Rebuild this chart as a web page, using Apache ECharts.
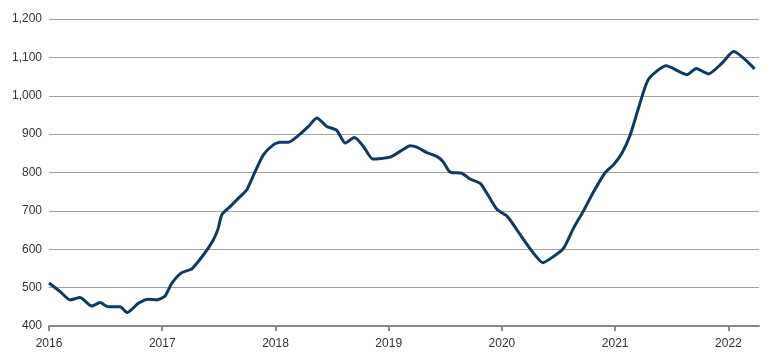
<!DOCTYPE html>
<html>
<head>
<meta charset="utf-8">
<script src="https://cdn.jsdelivr.net/npm/echarts@6/dist/echarts.min.js"></script>
<style>html,body{margin:0;padding:0;background:#fff;}#c{width:770px;height:358px;}</style>
</head>
<body>
<div id="c"></div>
<script>
// Dates as decimal years
const dates = [
  2016.000, 2016.097, 2016.186, 2016.274, 2016.377, 2016.451, 2016.524, 2016.627, 2016.692, 2016.789,
  2016.877, 2016.951, 2017.025, 2017.084, 2017.172, 2017.261, 2017.363, 2017.451, 2017.495, 2017.526,
  2017.599, 2017.687, 2017.747, 2017.820, 2017.893, 2017.981, 2018.041, 2018.114, 2018.217, 2018.291,
  2018.365, 2018.453, 2018.541, 2018.615, 2018.697, 2018.777, 2018.860, 2019.012, 2019.101, 2019.189,
  2019.248, 2019.336, 2019.425, 2019.483, 2019.542, 2019.646, 2019.719, 2019.807, 2019.867, 2019.955,
  2020.049, 2020.161, 2020.278, 2020.361, 2020.455, 2020.543, 2020.632, 2020.720, 2020.808, 2020.912,
  2020.985, 2021.059, 2021.133, 2021.206, 2021.294, 2021.451, 2021.633, 2021.716, 2021.824, 2021.943,
  2022.045, 2022.231
];
const values = [
  512, 490, 468, 474, 452, 461, 450, 450, 435, 459,
  470, 468, 478, 511, 539, 549, 585, 624, 655, 690,
  711, 737, 755, 802, 846, 872, 879, 879, 900, 920,
  942, 920, 910, 877, 891, 868, 835, 840, 855, 870,
  866, 852, 842, 827, 801, 798, 783, 772, 746, 704,
  685, 638, 590, 565, 581, 602, 655, 700, 749, 800,
  820, 850, 898, 968, 1043, 1078, 1055, 1071, 1057, 1085,
  1115, 1070
];
const yearTicks = [2016, 2017, 2018, 2019, 2020, 2021, 2022];

const chart = echarts.init(document.getElementById('c'), null, {renderer: 'canvas'});
chart.setOption({
  animation: false,
  backgroundColor: '#ffffff',
  grid: {left: 49, right: 11, top: 19, bottom: 32},
  xAxis: {
    type: 'value',
    min: 2016,
    max: 2022.27,
    splitLine: {show: false},
    axisLine: {show: true, lineStyle: {color: '#888888', width: 2}},
    axisTick: {show: true, customValues: yearTicks, length: 5, lineStyle: {color: '#888888', width: 2}},
    axisLabel: {
      customValues: yearTicks,
      margin: 12,
      color: '#333333',
      fontFamily: 'Liberation Sans, Arial, sans-serif',
      fontSize: 12,
      formatter: v => String(Math.round(v))
    }
  },
  yAxis: {
    type: 'value',
    min: 400,
    max: 1200,
    interval: 100,
    axisLine: {show: false},
    axisTick: {show: false},
    splitLine: {lineStyle: {color: '#a3a3a3', width: 1}},
    axisLabel: {
      margin: 7,
      color: '#333333',
      fontFamily: 'Liberation Sans, Arial, sans-serif',
      fontSize: 12,
      formatter: v => v.toLocaleString('en-US')
    }
  },
  series: [{
    type: 'line',
    data: dates.map((d, i) => [d, values[i]]),
    showSymbol: false,
    smooth: 0.2,
    lineStyle: {color: '#0e3a66', width: 3},
    z: 5
  }]
});
</script>
</body>
</html>
